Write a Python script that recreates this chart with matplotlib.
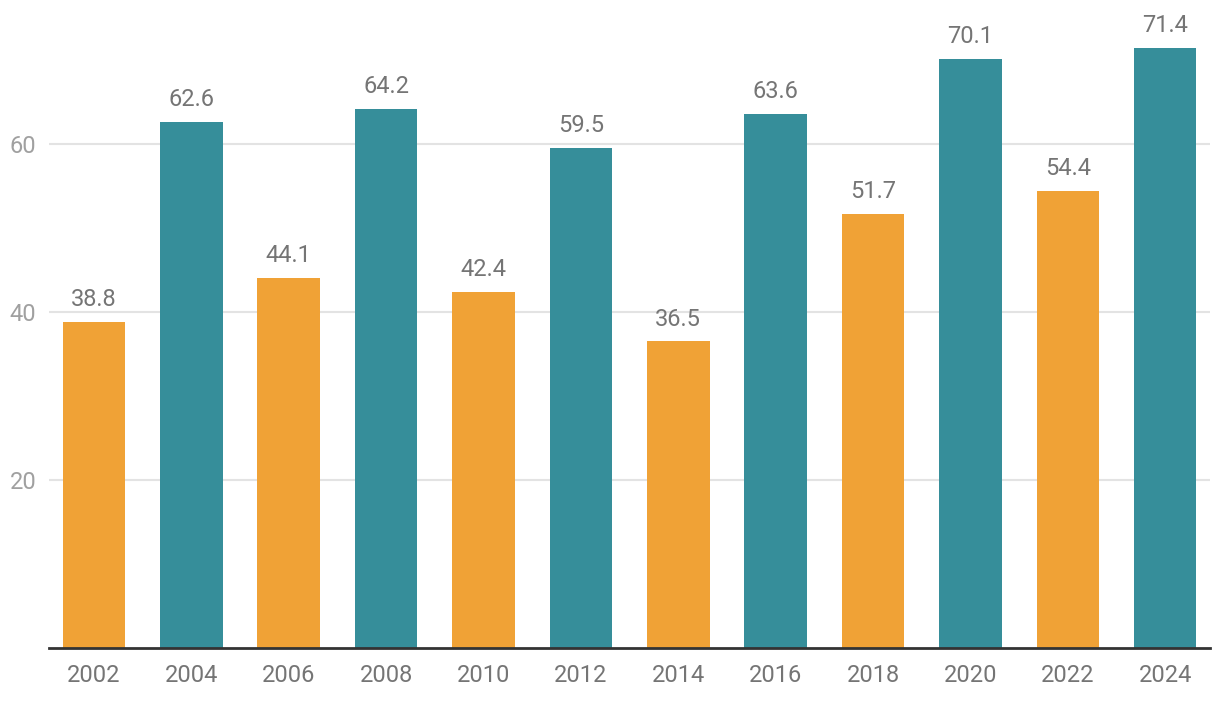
import matplotlib.pyplot as plt

plt.rcParams['font.family'] = ['Roboto', 'DejaVu Sans']

years = ['2002', '2004', '2006', '2008', '2010', '2012',
         '2014', '2016', '2018', '2020', '2022', '2024']
values = [38.8, 62.6, 44.1, 64.2, 42.4, 59.5, 36.5, 63.6, 51.7, 70.1, 54.4, 71.4]
colors = ['#f0a236' if i % 2 == 0 else '#368e9a' for i in range(len(years))]
yticks = [20, 40, 60]

fig = plt.figure(figsize=(12.2, 7.04), dpi=100)
ax = fig.add_axes([49 / 1220, 56 / 704, (1210 - 49) / 1220, 648 / 704])

x = list(range(len(years)))
bars = ax.bar(x, values, width=0.642, color=colors, zorder=2)

# value labels above the bars
for xi, v in zip(x, values):
    ax.annotate(f'{v}', (xi, v), xytext=(0, 7.8), textcoords='offset points',
                ha='center', va='bottom', fontsize=17, color='#757575')

ax.set_xlim(-0.462, 11.46)
ax.set_ylim(0, 77.14)
ax.set_yticks(yticks)
ax.set_xticks(x)
ax.set_xticklabels(years)
ax.grid(axis='y', color='#e3e3e3', linewidth=1.5, zorder=0)
ax.tick_params(axis='y', length=0, labelsize=17, labelcolor='#a0a0a0', pad=9)
ax.tick_params(axis='x', length=0, labelsize=17, labelcolor='#757575', pad=11.5)
for s in ['top', 'right', 'left']:
    ax.spines[s].set_visible(False)
ax.spines['bottom'].set_color('#333333')
ax.spines['bottom'].set_linewidth(2)
ax.spines['bottom'].set_zorder(3)

plt.savefig('out.png', dpi=100)
